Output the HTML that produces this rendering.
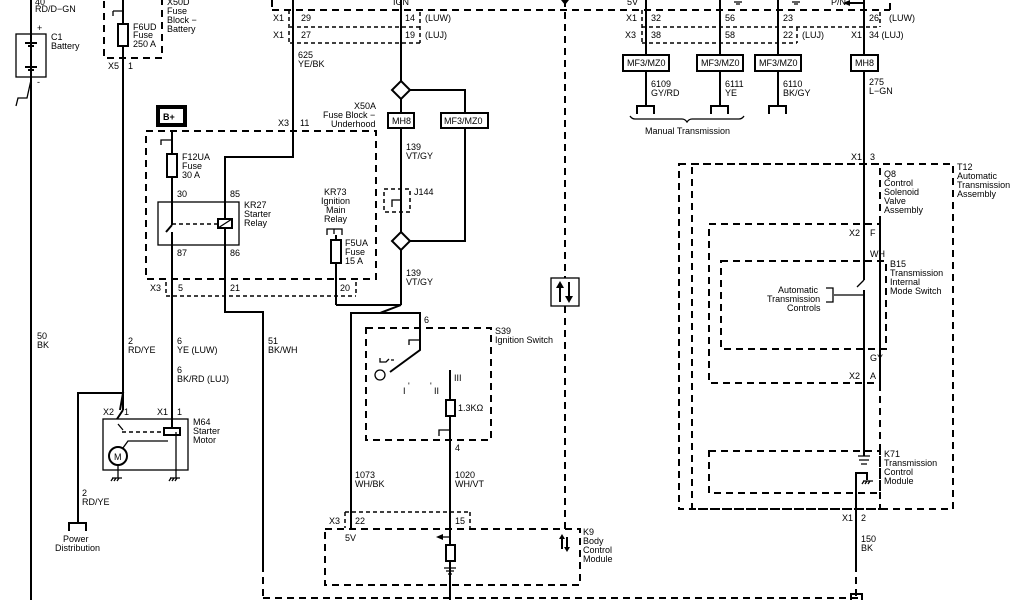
<!DOCTYPE html>
<html><head><meta charset="utf-8"><style>
html,body{margin:0;padding:0;background:#fff;}
svg{display:block;}
text{font-family:"Liberation Sans",sans-serif;font-size:9px;fill:#000;}
.w{stroke:#000;stroke-width:2;fill:none;}
.t{stroke:#000;stroke-width:1.3;fill:none;}
.d{stroke:#000;stroke-width:2;fill:none;stroke-dasharray:7,5;}
.ds{stroke:#000;stroke-width:1.5;fill:none;stroke-dasharray:4,3;}
.b{stroke:#000;stroke-width:2;fill:#fff;}
</style></head><body>
<svg width="1024" height="600" viewBox="0 0 1024 600" xmlns="http://www.w3.org/2000/svg">
<!-- Battery -->
<line class="w" x1="31" y1="0" x2="31" y2="600"/>
<rect class="t" x="16" y="34" width="30" height="43" fill="#fff"/>
<line class="w" x1="25" y1="43" x2="37" y2="43"/><line class="w" x1="28" y1="46" x2="34" y2="46"/>
<line class="ds" x1="31" y1="50" x2="31" y2="64"/>
<line class="w" x1="25" y1="67" x2="37" y2="67"/><line class="w" x1="28" y1="70" x2="34" y2="70"/>
<line class="t" x1="31" y1="36" x2="31" y2="42"/><line class="t" x1="31" y1="71" x2="31" y2="77"/>
<polyline class="t" points="31,80 27,98 18,98 16,106"/>
<text x="35" y="5">40</text><text x="35" y="12">RD/D−GN</text>
<text x="37" y="31" font-size="8">+</text><text x="37" y="85" font-size="8">-</text>
<text x="51" y="40">C1</text><text x="51" y="49">Battery</text>
<!-- X50D -->
<rect class="d" x="104" y="-4" width="58" height="62"/>
<line class="w" x1="123" y1="0" x2="123" y2="410"/>
<rect class="b" x="118" y="24" width="10" height="22"/>
<path class="t" d="M113,16 v-5 M113,11 h10"/>
<text x="133" y="30">F6UD</text><text x="133" y="38">Fuse</text><text x="133" y="47">250 A</text>
<text x="167" y="5">X50D</text><text x="167" y="14">Fuse</text><text x="167" y="23">Block −</text><text x="167" y="32">Battery</text>
<text x="108" y="69">X5</text><text x="128" y="69">1</text>
<text x="37" y="339">50</text><text x="37" y="348">BK</text>
<!-- top connector -->
<line class="d" x1="272" y1="10" x2="890" y2="10"/>
<line class="d" x1="890" y1="10" x2="890" y2="2"/>
<line class="ds" x1="290" y1="27" x2="420" y2="27"/>
<line class="ds" x1="290" y1="43" x2="420" y2="43"/>
<line class="ds" x1="289" y1="10" x2="289" y2="43"/><line class="ds" x1="420" y1="12" x2="420" y2="43"/>
<line class="d" x1="272" y1="0" x2="272" y2="10"/>
<text x="273" y="21">X1</text><text x="301" y="21">29</text>
<text x="273" y="38">X1</text><text x="301" y="38">27</text>
<text x="405" y="21">14</text><text x="425" y="21">(LUW)</text>
<text x="405" y="38">19</text><text x="425" y="38">(LUJ)</text>
<text x="393" y="5">IGN</text>
<text x="298" y="58">625</text><text x="298" y="67">YE/BK</text>
<!-- 625 wire -->
<polyline class="w" points="293,0 293,157 225,157 225,312 263,312 263,565"/>
<line class="d" x1="263" y1="565" x2="263" y2="598"/>
<line class="d" x1="263" y1="598" x2="860" y2="598"/>
<text x="268" y="344">51</text><text x="268" y="353">BK/WH</text>
<!-- X50A -->
<rect style="stroke:#000;stroke-width:4;fill:#fff" x="158" y="107" width="27" height="18"/>
<text x="163" y="120" font-weight="bold" font-size="10">B+</text>
<rect class="d" x="146" y="131" width="230" height="148"/>
<line class="w" x1="172" y1="131" x2="172" y2="225"/>
<line class="w" x1="166" y1="232" x2="172" y2="225"/>
<line class="w" x1="172" y1="232" x2="172" y2="300"/>
<line class="w" x1="172" y1="428" x2="172" y2="255"/>
<path class="t" d="M161,145 v-5 h11"/>
<rect class="b" x="167" y="154" width="10" height="23"/>
<text x="182" y="160">F12UA</text><text x="182" y="169">Fuse</text><text x="182" y="178">30 A</text>
<rect class="t" x="158" y="202" width="81" height="43"/>
<line class="ds" x1="172" y1="224" x2="218" y2="224"/>
<rect class="b" x="218" y="219" width="14" height="9"/><line class="t" x1="218" y1="228" x2="232" y2="219"/>
<text x="177" y="197">30</text><text x="230" y="197">85</text>
<text x="177" y="256">87</text><text x="230" y="256">86</text>
<text x="244" y="208">KR27</text><text x="244" y="217">Starter</text><text x="244" y="226">Relay</text>
<text x="324" y="195">KR73</text><text x="321" y="204">Ignition</text><text x="326" y="213">Main</text><text x="324" y="222">Relay</text>
<path class="t" d="M327,235 v-6 h15 v6 M334,229 v5"/>
<line class="w" x1="336" y1="235" x2="336" y2="305"/>
<rect class="b" x="331" y="240" width="10" height="23"/>
<text x="345" y="246">F5UA</text><text x="345" y="255">Fuse</text><text x="345" y="264">15 A</text>
<text x="354" y="109">X50A</text><text x="323" y="118">Fuse Block −</text><text x="331" y="127">Underhood</text>
<text x="278" y="126">X3</text><text x="300" y="126">11</text>
<!-- X3 row -->
<line class="ds" x1="166" y1="296" x2="356" y2="296"/>
<line class="ds" x1="166" y1="282" x2="166" y2="296"/><line class="ds" x1="356" y1="282" x2="356" y2="296"/>
<text x="150" y="291">X3</text><text x="178" y="291">5</text><text x="230" y="291">21</text><text x="340" y="291">20</text>
<!-- IGN wire -->
<line class="w" x1="401" y1="0" x2="401" y2="82"/>
<polygon class="b" points="401,81 410,90 401,99 392,90"/>
<polyline class="w" points="410,90 465,90 465,113"/>
<line class="w" x1="401" y1="99" x2="401" y2="113"/>
<rect class="b" x="388" y="113" width="26" height="15"/><text x="392" y="124" font-size="8.5">MH8</text>
<rect class="b" x="441" y="113" width="47" height="15"/><text x="444" y="124" font-size="8.5">MF3/MZ0</text>
<polyline class="w" points="465,128 465,241 410,241"/>
<line class="w" x1="401" y1="128" x2="401" y2="232"/>
<text x="406" y="150">139</text><text x="406" y="159">VT/GY</text>
<rect class="ds" x="384" y="189" width="26" height="23"/>
<path class="t" d="M392,207 v-7 h9"/>
<text x="414" y="195">J144</text>
<polygon class="b" points="401,232 410,241 401,250 392,241"/>
<line class="w" x1="401" y1="250" x2="401" y2="305"/>
<text x="406" y="276">139</text><text x="406" y="285">VT/GY</text>
<polyline class="w" points="401,305 380,313 351,313 351,529"/>
<line class="w" x1="336" y1="305" x2="401" y2="305"/>
<!-- S39 -->
<rect class="d" x="366" y="328" width="125" height="112"/>
<polyline class="w" points="351,313 420,313 420,350 390,372"/>
<path class="t" d="M409,345 v-5 h11"/>
<circle class="t" cx="380" cy="375" r="5"/>
<path class="t" d="M380,358 v4 h6 l3,-3 M391,360 h3"/>
<text x="424" y="323">6</text>
<text x="495" y="334">S39</text><text x="495" y="343">Ignition Switch</text>
<text x="403" y="394" font-size="7">I</text><text x="408" y="389" font-size="7">'</text>
<text x="430" y="389" font-size="7">'</text><text x="434" y="394" font-size="7">II</text>
<line class="w" x1="450" y1="370" x2="450" y2="600"/>
<text x="454" y="381" font-size="7">III</text>
<rect class="b" x="446" y="400" width="9" height="16"/>
<text x="458" y="411">1.3K&#937;</text>
<path class="t" d="M439,436 v-6 h11"/>
<text x="455" y="451">4</text>
<text x="355" y="478">1073</text><text x="355" y="487">WH/BK</text>
<text x="455" y="478">1020</text><text x="455" y="487">WH/VT</text>
<!-- K9 -->
<line class="ds" x1="345" y1="512" x2="470" y2="512"/>
<line class="ds" x1="345" y1="512" x2="345" y2="528"/><line class="ds" x1="470" y1="512" x2="470" y2="528"/>
<rect class="d" x="325" y="529" width="255" height="56"/>
<text x="329" y="524">X3</text><text x="355" y="524">22</text><text x="455" y="524">15</text>
<text x="345" y="541">5V</text>
<polygon points="436,537 443,534 443,540"/><line class="t" x1="440" y1="537" x2="450" y2="537"/>
<rect class="b" x="446" y="545" width="9" height="16"/>
<path class="t" d="M444,568 h12 M446,571 h8 M448,574 h4"/>
<text x="583" y="535">K9</text><text x="583" y="544">Body</text><text x="583" y="553">Control</text><text x="583" y="562">Module</text>
<path class="w" d="M562,537 v12 M567,537 v12"/>
<polygon points="562,534 559,539 565,539"/><polygon points="567,552 564,547 570,547"/>
<!-- BCM dashed -->
<line class="d" x1="565" y1="0" x2="565" y2="278"/>
<line class="d" x1="565" y1="306" x2="565" y2="529"/>
<rect class="t" x="551" y="278" width="28" height="28"/>
<path class="w" d="M560,286 v16 M569,282 v16"/>
<polygon points="560,281 556,288 564,288"/><polygon points="569,303 565,296 573,296"/>
<polygon points="561,0 569,0 565,5"/>
<!-- Starter motor -->
<rect class="t" x="103" y="419" width="85" height="51"/>
<polyline class="w" points="120,410 123,393 78,393 78,522"/>
<line class="w" x1="117" y1="419" x2="123" y2="410"/>
<polyline class="t" points="123,430 118,424"/>
<line class="ds" x1="122" y1="432" x2="164" y2="432"/>
<rect class="b" x="164" y="428" width="16" height="7"/>
<polyline class="t" points="168,441 128,441 120,452"/>
<circle class="b" cx="118" cy="456" r="9"/><text x="114" y="460" font-size="8">M</text>
<line class="t" x1="118" y1="465" x2="118" y2="478"/>
<path class="t" d="M112,478 h10 M113,478 l-2,3 M116,478 l-2,3 M119,478 l-2,3"/>
<line class="t" x1="176" y1="432" x2="176" y2="478"/>
<path class="t" d="M170,478 h10 M171,478 l-2,3 M174,478 l-2,3 M177,478 l-2,3"/>
<text x="103" y="415">X2</text><text x="124" y="415">1</text>
<text x="157" y="415">X1</text><text x="177" y="415">1</text>
<text x="193" y="425">M64</text><text x="193" y="434">Starter</text><text x="193" y="443">Motor</text>
<text x="128" y="344">2</text><text x="128" y="353">RD/YE</text>
<text x="177" y="344">6</text><text x="177" y="353">YE (LUW)</text>
<text x="177" y="373">6</text><text x="177" y="382">BK/RD (LUJ)</text>
<text x="82" y="496">2</text><text x="82" y="505">RD/YE</text>
<path class="w" d="M69,531 v-8 h17 v8"/>
<text x="63" y="542">Power</text><text x="55" y="551">Distribution</text>
<!-- right top -->
<line class="ds" x1="642" y1="27" x2="880" y2="27"/>
<line class="ds" x1="642" y1="43" x2="797" y2="43"/>
<line class="ds" x1="642" y1="10" x2="642" y2="43"/><line class="ds" x1="797" y1="27" x2="797" y2="43"/>
<line class="ds" x1="880" y1="12" x2="880" y2="27"/>
<text x="627" y="5">5V</text>
<text x="626" y="21">X1</text><text x="651" y="21">32</text>
<text x="625" y="38">X3</text><text x="651" y="38">38</text>
<text x="725" y="21">56</text><text x="725" y="38">58</text>
<text x="783" y="21">23</text><text x="783" y="38">22</text><text x="802" y="38">(LUJ)</text>
<text x="869" y="21">26</text><text x="889" y="21">(LUW)</text>
<text x="851" y="38">X1</text><text x="869" y="38">34 (LUJ)</text>
<text x="831" y="5">P/N</text>
<line class="w" x1="646" y1="0" x2="646" y2="106"/>
<line class="w" x1="720" y1="0" x2="720" y2="106"/>
<line class="w" x1="778" y1="0" x2="778" y2="106"/>
<path class="t" d="M734,2 h8 M736,4 h4 M792,2 h8 M794,4 h4"/>
<rect class="b" x="623" y="55" width="46" height="16"/><text x="627" y="66" font-size="8.5">MF3/MZ0</text>
<rect class="b" x="697" y="55" width="46" height="16"/><text x="701" y="66" font-size="8.5">MF3/MZ0</text>
<rect class="b" x="755" y="55" width="46" height="16"/><text x="759" y="66" font-size="8.5">MF3/MZ0</text>
<text x="651" y="87">6109</text><text x="651" y="96">GY/RD</text>
<text x="725" y="87">6111</text><text x="725" y="96">YE</text>
<text x="783" y="87">6110</text><text x="783" y="96">BK/GY</text>
<path class="w" d="M637,114 v-8 h17 v8 M711,114 v-8 h17 v8 M769,114 v-8 h17 v8"/>
<path class="t" d="M630,116 q2,3 5,3 h47 q3,0 5,3 q2,-3 5,-3 h47 q3,0 5,-3"/>
<text x="645" y="134">Manual Transmission</text>
<polyline class="w" points="864,0 864,280"/>
<polyline class="t" points="864,280 857,287"/>
<polyline class="w" points="864,290 864,456"/>
<polyline class="w" points="864,3 848,3"/><polygon points="843,3 850,0 850,6"/>
<rect class="b" x="851" y="55" width="27" height="16"/><text x="855" y="66" font-size="8.5">MH8</text>
<text x="869" y="85">275</text><text x="869" y="94">L−GN</text>
<!-- T12 -->
<rect class="d" x="679" y="164" width="274" height="345"/>
<rect class="d" x="692" y="164" width="188" height="345"/>
<rect class="d" x="709" y="224" width="171" height="159"/>
<rect class="d" x="721" y="261" width="165" height="88"/>
<rect class="d" x="709" y="451" width="171" height="42"/>
<text x="851" y="160">X1</text><text x="870" y="160">3</text>
<text x="957" y="170">T12</text><text x="957" y="179">Automatic</text><text x="957" y="188">Transmission</text><text x="957" y="197">Assembly</text>
<text x="884" y="177">Q8</text><text x="884" y="186">Control</text><text x="884" y="195">Solenoid</text><text x="884" y="204">Valve</text><text x="884" y="213">Assembly</text>
<text x="849" y="236">X2</text><text x="870" y="236">F</text>
<text x="870" y="257">WH</text>
<text x="890" y="267">B15</text><text x="890" y="276">Transmission</text><text x="890" y="285">Internal</text><text x="890" y="294">Mode Switch</text>
<polyline class="t" points="834,295 864,295"/>
<path class="t" d="M826,288 h7 v14 h-7"/>
<text x="778" y="293" font-size="8.5">Automatic</text><text x="767" y="302" font-size="8.5">Transmission</text><text x="787" y="311" font-size="8.5">Controls</text>
<text x="870" y="361">GY</text>
<text x="849" y="379">X2</text><text x="870" y="379">A</text>
<path class="t" d="M858,456 h12 M859,460 h10 M861,464 h6"/>
<polyline class="w" points="856,492 856,473 867,473 867,480"/>
<path class="t" d="M863,481 h10 M864,481 l-2,3 M867,481 l-2,3 M870,481 l-2,3"/>
<line class="w" x1="856" y1="492" x2="856" y2="565"/>
<line class="d" x1="856" y1="565" x2="856" y2="597"/>
<path class="w" d="M851,600 v-6 h11 v6"/>
<text x="884" y="457">K71</text><text x="884" y="466">Transmission</text><text x="884" y="475">Control</text><text x="884" y="484">Module</text>
<text x="842" y="521">X1</text><text x="861" y="521">2</text>
<text x="861" y="542">150</text><text x="861" y="551">BK</text>
</svg>
</body></html>
